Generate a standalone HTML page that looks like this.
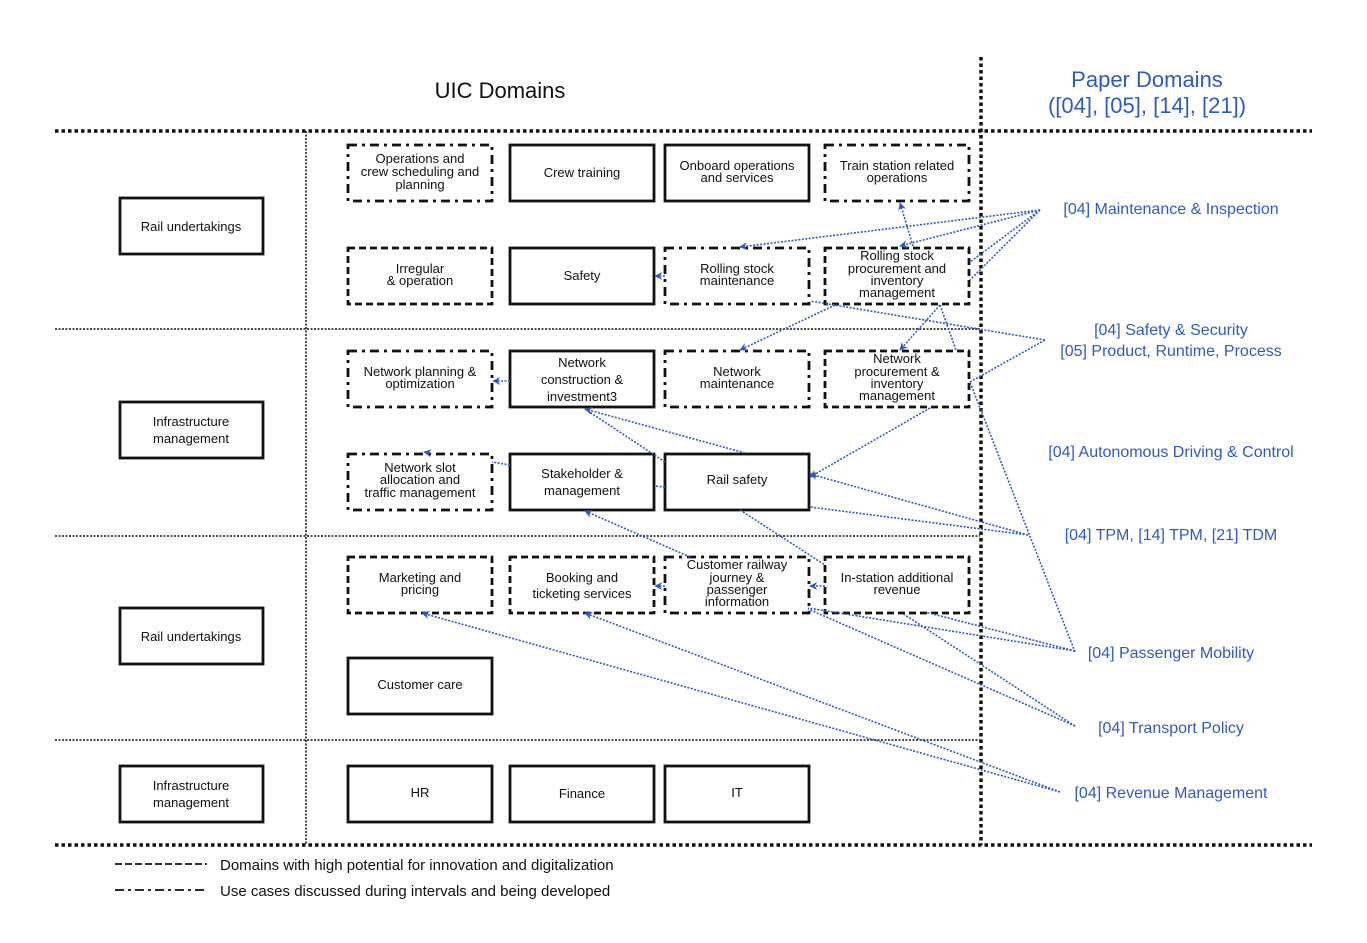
<!DOCTYPE html>
<html><head><meta charset="utf-8"><style>
body{margin:0;background:#fff}
svg{display:block}
text{font-family:"Liberation Sans",sans-serif}
.b{font-size:13px;fill:#111;text-anchor:middle}
.bl{font-size:16px;fill:#2f5bbf;text-anchor:middle}
.s{fill:#fff;stroke:#111;stroke-width:2.8}
.d{fill:#fff;stroke:#111;stroke-width:2.8;stroke-dasharray:7 4}
.dd{fill:#fff;stroke:#111;stroke-width:2.8;stroke-dasharray:9 5 3 5}
.c{stroke:#2f5bbf;stroke-width:1.6;stroke-dasharray:2 1.5;fill:none}
.a{stroke:#2f5bbf;stroke-width:1.6;stroke-dasharray:2 1.5;fill:none;marker-end:url(#m)}
</style></head><body>
<svg width="1367" height="943" viewBox="0 0 1367 943">
<defs><marker id="m" viewBox="0 0 10 10" refX="9" refY="5" markerWidth="5" markerHeight="5" orient="auto"><path d="M0,0L10,5L0,10L3,5z" fill="#2f5bbf"/></marker></defs>
<g stroke="#111" fill="none">
<line x1="55" y1="131" x2="1312" y2="131" stroke-width="3.5" stroke-dasharray="3.5 3"/>
<line x1="55" y1="845" x2="1312" y2="845" stroke-width="3.5" stroke-dasharray="3.5 3"/>
<line x1="55" y1="329" x2="980" y2="329" stroke-width="1.5" stroke-dasharray="2 1.5"/>
<line x1="55" y1="536" x2="980" y2="536" stroke-width="1.5" stroke-dasharray="2 1.5"/>
<line x1="55" y1="740" x2="980" y2="740" stroke-width="1.5" stroke-dasharray="2 1.5"/>
<line x1="306" y1="131" x2="306" y2="845" stroke-width="1.5" stroke-dasharray="2 1.5"/>
<line x1="981" y1="57" x2="981" y2="845" stroke-width="3.5" stroke-dasharray="3.5 3"/>
</g>
<text x="500" y="98" style="font-size:22px;text-anchor:middle;fill:#111">UIC Domains</text>
<text x="1147" y="87" style="font-size:22px;text-anchor:middle;fill:#2f5bbf">Paper Domains</text>
<text x="1147" y="113" style="font-size:22px;text-anchor:middle;fill:#2f5bbf">([04], [05], [14], [21])</text>
<rect class="s" x="120" y="198" width="143" height="56"/><text class="b" x="191" y="231">Rail undertakings</text>
<rect class="s" x="120" y="402" width="143" height="56"/><text class="b" x="191" y="426">Infrastructure</text><text class="b" x="191" y="443">management</text>
<rect class="s" x="120" y="608" width="143" height="56"/><text class="b" x="191" y="641">Rail undertakings</text>
<rect class="s" x="120" y="766" width="143" height="56"/><text class="b" x="191" y="790">Infrastructure</text><text class="b" x="191" y="807">management</text>
<rect class="dd" x="348" y="145" width="144" height="56"/><text class="b" x="420" y="163">Operations and</text><text class="b" x="420" y="176">crew scheduling and</text><text class="b" x="420" y="189">planning</text>
<rect class="s" x="510" y="145" width="144" height="56"/><text class="b" x="582" y="177">Crew training</text>
<rect class="s" x="665" y="145" width="144" height="56"/><text class="b" x="737" y="170">Onboard operations</text><text class="b" x="737" y="182">and services</text>
<rect class="dd" x="825" y="145" width="144" height="56"/><text class="b" x="897" y="170">Train station related</text><text class="b" x="897" y="182">operations</text>
<rect class="d" x="348" y="248" width="144" height="56"/><text class="b" x="420" y="273">Irregular</text><text class="b" x="420" y="285">&amp; operation</text>
<rect class="s" x="510" y="248" width="144" height="56"/><text class="b" x="582" y="280">Safety</text>
<rect class="dd" x="665" y="248" width="144" height="56"/><text class="b" x="737" y="273">Rolling stock</text><text class="b" x="737" y="285">maintenance</text>
<rect class="d" x="825" y="248" width="144" height="56"/><text class="b" x="897" y="260">Rolling stock</text><text class="b" x="897" y="273">procurement and</text><text class="b" x="897" y="285">inventory</text><text class="b" x="897" y="297">management</text>
<rect class="dd" x="348" y="351" width="144" height="56"/><text class="b" x="420" y="376">Network planning &amp;</text><text class="b" x="420" y="388">optimization</text>
<rect class="s" x="510" y="351" width="144" height="56"/><text class="b" x="582" y="367">Network</text><text class="b" x="582" y="384">construction &amp;</text><text class="b" x="582" y="401">investment3</text>
<rect class="dd" x="665" y="351" width="144" height="56"/><text class="b" x="737" y="376">Network</text><text class="b" x="737" y="388">maintenance</text>
<rect class="d" x="825" y="351" width="144" height="56"/><text class="b" x="897" y="363">Network</text><text class="b" x="897" y="376">procurement &amp;</text><text class="b" x="897" y="388">inventory</text><text class="b" x="897" y="400">management</text>
<rect class="dd" x="348" y="454" width="144" height="56"/><text class="b" x="420" y="472">Network slot</text><text class="b" x="420" y="484">allocation and</text><text class="b" x="420" y="497">traffic management</text>
<rect class="s" x="510" y="454" width="144" height="56"/><text class="b" x="582" y="478">Stakeholder &amp;</text><text class="b" x="582" y="495">management</text>
<rect class="s" x="665" y="454" width="144" height="56"/><text class="b" x="737" y="484">Rail safety</text>
<rect class="d" x="348" y="557" width="144" height="56"/><text class="b" x="420" y="582">Marketing and</text><text class="b" x="420" y="594">pricing</text>
<rect class="d" x="510" y="557" width="144" height="56"/><text class="b" x="582" y="582">Booking and</text><text class="b" x="582" y="598">ticketing services</text>
<rect class="dd" x="665" y="557" width="144" height="56"/><text class="b" x="737" y="569">Customer railway</text><text class="b" x="737" y="582">journey &amp;</text><text class="b" x="737" y="594">passenger</text><text class="b" x="737" y="606">information</text>
<rect class="d" x="825" y="557" width="144" height="56"/><text class="b" x="897" y="582">In-station additional</text><text class="b" x="897" y="594">revenue</text>
<rect class="s" x="348" y="658" width="144" height="56"/><text class="b" x="420" y="689">Customer care</text>
<rect class="s" x="348" y="766" width="144" height="56"/><text class="b" x="420" y="797">HR</text>
<rect class="s" x="510" y="766" width="144" height="56"/><text class="b" x="582" y="798">Finance</text>
<rect class="s" x="665" y="766" width="144" height="56"/><text class="b" x="737" y="797">IT</text>
<text class="bl" x="1171" y="214">[04] Maintenance &amp; Inspection</text>
<text class="bl" x="1171" y="335">[04] Safety &amp; Security</text>
<text class="bl" x="1171" y="356">[05] Product, Runtime, Process</text>
<text class="bl" x="1171" y="457">[04] Autonomous Driving &amp; Control</text>
<text class="bl" x="1171" y="540">[04] TPM, [14] TPM, [21] TDM</text>
<text class="bl" x="1171" y="658">[04] Passenger Mobility</text>
<text class="bl" x="1171" y="733">[04] Transport Policy</text>
<text class="bl" x="1171" y="798">[04] Revenue Management</text>
<line class="a" x1="1040" y1="210" x2="740" y2="247"/>
<line class="a" x1="1040" y1="210" x2="900" y2="246"/>
<line class="c" x1="1040" y1="210" x2="970" y2="262"/>
<line class="c" x1="1040" y1="210" x2="970" y2="280"/>
<line class="a" x1="913" y1="246" x2="900" y2="203"/>
<line class="c" x1="1045" y1="340" x2="810" y2="301"/>
<line class="c" x1="1045" y1="340" x2="970" y2="382"/>
<line class="c" x1="1075" y1="652" x2="970" y2="382"/>
<line class="a" x1="835" y1="305" x2="740" y2="350"/>
<line class="a" x1="940" y1="305" x2="900" y2="350"/>
<line class="c" x1="940" y1="305" x2="956" y2="350"/>
<line class="a" x1="510" y1="381" x2="493" y2="381"/>
<line class="a" x1="665" y1="276" x2="655" y2="276"/>
<line class="a" x1="930" y1="408" x2="810" y2="477"/>
<line class="a" x1="1028" y1="535" x2="810" y2="474"/>
<line class="c" x1="1028" y1="535" x2="810" y2="507"/>
<line class="a" x1="745" y1="453" x2="585" y2="409"/>
<line class="c" x1="665" y1="462" x2="585" y2="409"/>
<line class="c" x1="665" y1="487" x2="654" y2="486"/>
<line class="c" x1="510" y1="465" x2="492" y2="462"/>
<line class="a" x1="430" y1="453" x2="424" y2="452"/>
<line class="c" x1="740" y1="510" x2="825" y2="565"/>
<line class="a" x1="690" y1="557" x2="585" y2="511"/>
<line class="a" x1="665" y1="586" x2="655" y2="586"/>
<line class="a" x1="825" y1="586" x2="810" y2="586"/>
<line class="c" x1="1075" y1="651" x2="808" y2="608"/>
<line class="c" x1="1075" y1="651" x2="925" y2="612"/>
<line class="c" x1="1075" y1="726" x2="808" y2="609"/>
<line class="c" x1="1075" y1="726" x2="902" y2="613"/>
<line class="a" x1="1060" y1="792" x2="422" y2="613"/>
<line class="a" x1="1060" y1="792" x2="585" y2="613"/>
<line x1="115" y1="864" x2="207" y2="864" stroke="#111" stroke-width="1.8" stroke-dasharray="7 3"/>
<text x="220" y="870" style="font-size:15px;fill:#111">Domains with high potential for innovation and digitalization</text>
<line x1="115" y1="890" x2="207" y2="890" stroke="#111" stroke-width="1.8" stroke-dasharray="9 4 3 4"/>
<text x="220" y="896" style="font-size:15px;fill:#111">Use cases discussed during intervals and being developed</text>
</svg>
</body></html>
